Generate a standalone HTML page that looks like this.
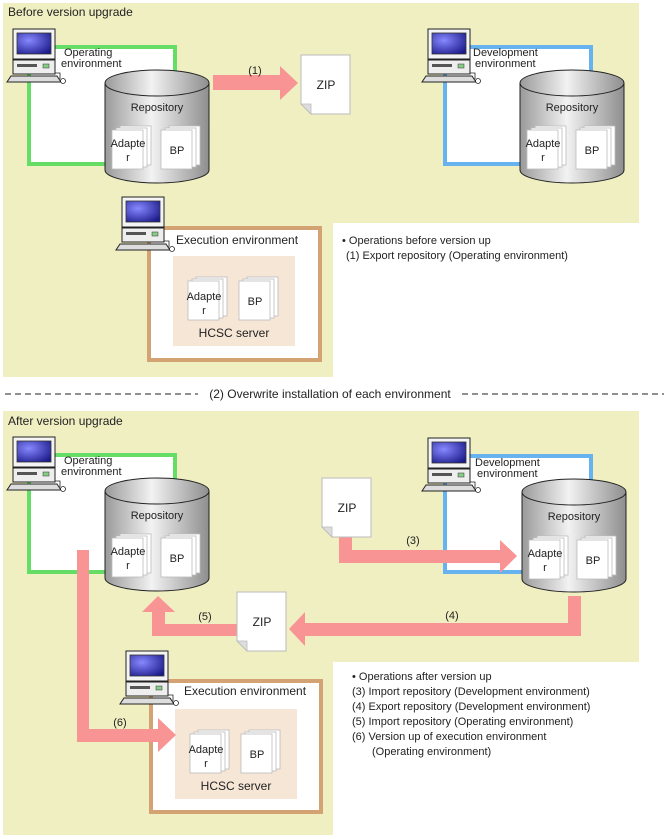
<!DOCTYPE html>
<html><head><meta charset="utf-8"><style>
html,body{margin:0;padding:0;background:#fff}
svg{display:block}
text{font-family:"Liberation Sans",Arial,sans-serif;fill:#222}
</style></head><body>
<svg width="667" height="837" viewBox="0 0 667 837" xmlns="http://www.w3.org/2000/svg">
<defs>
<linearGradient id="cyl" x1="0" x2="1" y1="0" y2="0">
<stop offset="0" stop-color="#9a9a9a"/><stop offset="0.45" stop-color="#f2f2f2"/><stop offset="1" stop-color="#8e8e8e"/>
</linearGradient>
<radialGradient id="scr" cx="0.35" cy="0.35" r="0.8">
<stop offset="0" stop-color="#8888ff"/><stop offset="1" stop-color="#1a1a8a"/>
</radialGradient>
<g id="pc">
<rect x="5" y="0" width="42" height="30" fill="#f4f4f4" stroke="#222" stroke-width="1"/>
<rect x="9" y="4" width="34" height="21" fill="url(#scr)" stroke="#333" stroke-width="0.8"/>
<rect x="5" y="31" width="42" height="14" fill="#eee" stroke="#222" stroke-width="1"/>
<rect x="9" y="35" width="20" height="3" fill="#555"/>
<rect x="35" y="35" width="6" height="4" fill="#8c8" stroke="#333" stroke-width="0.5"/>
<polygon points="3,47 49,47 53,53 -1,53" fill="#ddd" stroke="#222" stroke-width="1"/>
<path d="M47 44 L52 44 L52 50" fill="none" stroke="#222" stroke-width="0.8"/>
<circle cx="55" cy="52" r="2.5" fill="#fff" stroke="#222" stroke-width="0.8"/>
</g>
<g id="cy">
<path d="M0 13 L0 100 A52 13 0 0 0 104 100 L104 13" fill="url(#cyl)" stroke="#222" stroke-width="1"/>
<ellipse cx="52" cy="13" rx="52" ry="13" fill="url(#cyl)" stroke="#222" stroke-width="1"/>
</g>
<g id="doc">
<rect x="8" y="-4" width="31" height="39" fill="#fff" stroke="#bbb" stroke-width="0.8"/>
<rect x="4" y="-2" width="31" height="39" fill="#fff" stroke="#bbb" stroke-width="0.8"/>
<rect x="0" y="0" width="31" height="39" fill="#fff" stroke="#bbb" stroke-width="0.8"/>
</g>
<g id="zip">
<polygon points="0,0 49,0 49,59 10,59 0,49" fill="#fff" stroke="#bbb" stroke-width="1"/>
<polygon points="0,49 10,49 10,59" fill="#ddd" stroke="#bbb" stroke-width="0.8"/>
<text x="25" y="34" font-size="12" text-anchor="middle">ZIP</text>
</g>
</defs>

<path d="M3 3 H639 V223 H333 V377 H3 Z" fill="#f0efc2"/>
<path d="M3 411 H639 V662 H333 V835 H3 Z" fill="#f0efc2"/>

<text x="8" y="16" font-size="12">Before version upgrade</text>
<text x="8" y="425" font-size="12">After version upgrade</text>

<line x1="5" y1="394" x2="198" y2="394" stroke="#222" stroke-dasharray="6,4"/>
<line x1="462" y1="394" x2="664" y2="394" stroke="#222" stroke-dasharray="6,4"/>
<text x="330" y="398" font-size="12" text-anchor="middle">(2) Overwrite installation of each environment</text>

<rect x="29" y="47" width="146" height="117" fill="#fff" stroke="#66dd66" stroke-width="4"/>
<use href="#pc" x="8" y="29"/>
<text x="64" y="56" font-size="11">Operating</text>
<text x="61" y="67" font-size="11">environment</text>
<use href="#cy" x="105" y="70"/>
<text x="157" y="111" font-size="11" text-anchor="middle">Repository</text>
<use href="#doc" x="112" y="130"/>
<text x="128" y="147" font-size="11" text-anchor="middle">Adapte</text>
<text x="128" y="161" font-size="11" text-anchor="middle">r</text>
<use href="#doc" x="161" y="130"/>
<text x="177" y="154" font-size="11" text-anchor="middle">BP</text>

<polygon points="213,75 280,75 280,66 298,83 280,100 280,90 213,90" fill="#f89494"/>
<text x="255" y="74" font-size="11" text-anchor="middle">(1)</text>
<use href="#zip" x="301" y="55"/>

<rect x="445" y="47" width="146" height="117" fill="#fff" stroke="#66b3f0" stroke-width="4"/>
<use href="#pc" x="423" y="29"/>
<text x="473" y="56" font-size="11">Development</text>
<text x="475" y="67" font-size="11">environment</text>
<use href="#cy" x="520" y="70"/>
<text x="572" y="111" font-size="11" text-anchor="middle">Repository</text>
<use href="#doc" x="527" y="130"/>
<text x="543" y="147" font-size="11" text-anchor="middle">Adapte</text>
<text x="543" y="161" font-size="11" text-anchor="middle">r</text>
<use href="#doc" x="576" y="130"/>
<text x="592" y="154" font-size="11" text-anchor="middle">BP</text>

<rect x="149" y="228" width="171" height="132" fill="#fff" stroke="#d4a373" stroke-width="4"/>
<rect x="173" y="256" width="122" height="90" fill="#f6e6d6"/>
<use href="#pc" x="117" y="197"/>
<text x="176" y="244" font-size="12">Execution environment</text>
<use href="#doc" x="188" y="281"/>
<text x="204" y="300" font-size="11" text-anchor="middle">Adapte</text>
<text x="204" y="314" font-size="11" text-anchor="middle">r</text>
<use href="#doc" x="239" y="281"/>
<text x="255" y="305" font-size="11" text-anchor="middle">BP</text>
<text x="234" y="337" font-size="12" text-anchor="middle">HCSC server</text>

<text x="342" y="244" font-size="11">• Operations before version up</text>
<text x="346" y="259" font-size="11">(1) Export repository (Operating environment)</text>

<rect x="29" y="455" width="146" height="117" fill="#fff" stroke="#66dd66" stroke-width="4"/>
<use href="#pc" x="8" y="437"/>
<text x="64" y="464" font-size="11">Operating</text>
<text x="61" y="475" font-size="11">environment</text>

<use href="#cy" x="105" y="478"/>
<text x="157" y="519" font-size="11" text-anchor="middle">Repository</text>
<use href="#doc" x="112" y="538"/>
<text x="128" y="555" font-size="11" text-anchor="middle">Adapte</text>
<text x="128" y="569" font-size="11" text-anchor="middle">r</text>
<use href="#doc" x="161" y="538"/>
<text x="177" y="562" font-size="11" text-anchor="middle">BP</text>

<rect x="445" y="456" width="146" height="116" fill="#fff" stroke="#66b3f0" stroke-width="4"/>
<use href="#pc" x="423" y="438"/>
<text x="475" y="466" font-size="11">Development</text>
<text x="477" y="477" font-size="11">environment</text>

<polygon points="339,537 352,537 352,550 500,550 500,540 517,556 500,573 500,563 339,563" fill="#f89494"/>
<text x="413" y="544" font-size="11" text-anchor="middle">(3)</text>
<use href="#zip" x="322" y="478"/>

<use href="#cy" x="522" y="479"/>
<text x="574" y="520" font-size="11" text-anchor="middle">Repository</text>
<use href="#doc" x="529" y="540"/>
<text x="545" y="557" font-size="11" text-anchor="middle">Adapte</text>
<text x="545" y="571" font-size="11" text-anchor="middle">r</text>
<use href="#doc" x="577" y="540"/>
<text x="593" y="564" font-size="11" text-anchor="middle">BP</text>

<polygon points="568,596 581,596 581,636 305,636 305,646 289,629 305,612 305,623 568,623" fill="#f89494"/>
<text x="452" y="619" font-size="11" text-anchor="middle">(4)</text>

<polygon points="237,624 237,636 152,636 152,612 142,612 158,596 175,612 165,612 165,624" fill="#f89494"/>
<text x="205" y="620" font-size="11" text-anchor="middle">(5)</text>
<use href="#zip" x="237" y="592"/>

<rect x="151" y="681" width="170" height="131" fill="#fff" stroke="#d4a373" stroke-width="4"/>
<rect x="175" y="709" width="122" height="90" fill="#f6e6d6"/>
<use href="#pc" x="121" y="651"/>
<text x="184" y="695" font-size="12">Execution environment</text>

<polygon points="77,550 89,550 89,729 158,729 158,718 176,735 158,752 158,742 77,742" fill="#f89494"/>
<text x="120" y="726" font-size="11" text-anchor="middle">(6)</text>

<use href="#doc" x="190" y="734"/>
<text x="206" y="753" font-size="11" text-anchor="middle">Adapte</text>
<text x="206" y="767" font-size="11" text-anchor="middle">r</text>
<use href="#doc" x="241" y="734"/>
<text x="257" y="758" font-size="11" text-anchor="middle">BP</text>
<text x="236" y="790" font-size="12" text-anchor="middle">HCSC server</text>

<text x="352" y="680" font-size="11">• Operations after version up</text>
<text x="352" y="695" font-size="11">(3) Import repository (Development environment)</text>
<text x="352" y="710" font-size="11">(4) Export repository (Development environment)</text>
<text x="352" y="725" font-size="11">(5) Import repository (Operating environment)</text>
<text x="352" y="740" font-size="11">(6) Version up of execution environment</text>
<text x="372" y="755" font-size="11">(Operating environment)</text>
</svg>
</body></html>
